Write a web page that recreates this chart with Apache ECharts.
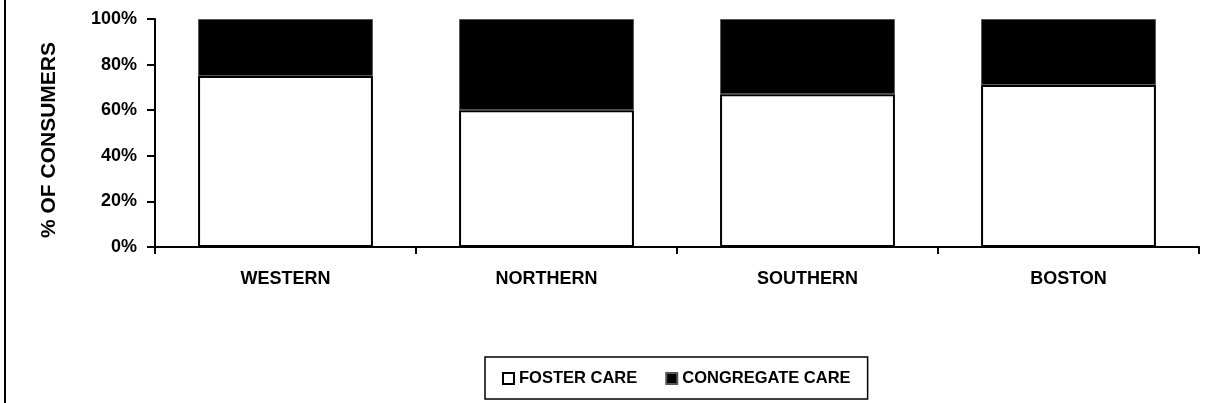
<!DOCTYPE html>
<html>
<head>
<meta charset="utf-8">
<script src="https://cdn.jsdelivr.net/npm/echarts@6/dist/echarts.min.js"></script>
<style>
  html, body { margin: 0; padding: 0; background: #fff; }
  #chart { width: 1207px; height: 403px; }
</style>
</head>
<body>
<div id="chart"></div>
<script>
const regions = ['WESTERN', 'NORTHERN', 'SOUTHERN', 'BOSTON']
const fosterCare = [75, 60, 67, 71]
const congregateCare = [25, 40, 33, 29]
const yTicks = [0, 20, 40, 60, 80, 100]

const font = '"Liberation Sans", Arial, sans-serif'
const chart = echarts.init(document.getElementById('chart'))

chart.setOption({
  animation: false,
  backgroundColor: '#fff',
  textStyle: { fontFamily: font },
  graphic: [
    {
      type: 'line',
      shape: { x1: 5, y1: 0, x2: 5, y2: 403 },
      style: { stroke: '#000', lineWidth: 2 }
    }
  ],
  grid: { left: 155, right: 8, top: 19, bottom: 156 },
  legend: {
    top: 357,
    left: 485,
    itemWidth: 11,
    itemHeight: 11,
    itemGap: 28,
    padding: [13, 17, 12, 17],
    borderColor: '#000',
    borderWidth: 1.5,
    textStyle: { fontFamily: font, fontWeight: 'bold', fontSize: 16.5, color: '#000' },
    data: [
      { name: 'FOSTER CARE', icon: 'rect', itemStyle: { color: '#fff', borderColor: '#000', borderWidth: 2 } },
      { name: 'CONGREGATE CARE', icon: 'rect', itemStyle: { color: '#000' } }
    ]
  },
  xAxis: {
    type: 'category',
    data: regions,
    axisLine: { lineStyle: { color: '#000', width: 2 } },
    axisTick: { show: true, length: 7, lineStyle: { color: '#000', width: 2 } },
    axisLabel: { margin: 23, fontFamily: font, fontWeight: 'bold', fontSize: 18, color: '#000' }
  },
  yAxis: {
    type: 'value',
    min: yTicks[0],
    max: yTicks[yTicks.length - 1],
    interval: 20,
    name: '% OF CONSUMERS',
    nameLocation: 'middle',
    nameGap: 95,
    nameTextStyle: {
      fontFamily: font,
      fontWeight: 'bold',
      fontSize: 21,
      color: '#000',
      padding: [0, 14, 0, 0]
    },
    axisLine: { show: true, lineStyle: { color: '#000', width: 2 } },
    axisTick: { show: true, length: 8, lineStyle: { color: '#000', width: 2 } },
    splitLine: { show: false },
    axisLabel: {
      margin: 18,
      fontFamily: font,
      fontWeight: 'bold',
      fontSize: 18,
      color: '#000',
      formatter: '{value}%'
    }
  },
  series: [
    {
      name: 'FOSTER CARE',
      type: 'bar',
      stack: 'total',
      barWidth: '67%',
      data: fosterCare,
      itemStyle: { color: '#fff', borderColor: '#000', borderWidth: 2 }
    },
    {
      name: 'CONGREGATE CARE',
      type: 'bar',
      stack: 'total',
      data: congregateCare,
      itemStyle: { color: '#000', borderColor: '#555', borderWidth: 1 }
    }
  ]
})
</script>
</body>
</html>
